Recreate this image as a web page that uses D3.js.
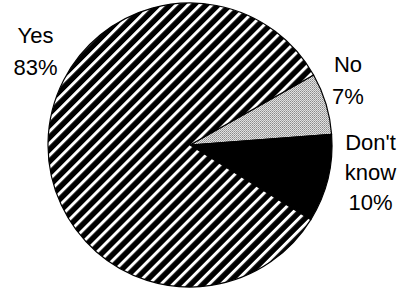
<!DOCTYPE html>
<html>
  <head>
    <meta charset="utf-8" />
    <title>Pie</title>
    <script src="https://d3js.org/d3.v7.min.js"></script>
    <style>
      body { margin: 0; background: #fff; }
      text { font-family: 'Liberation Sans', Arial, sans-serif; font-size: 22px; fill: #000; }
    </style>
  </head>
  <body>
    <script>
      // slices, in drawing order (clockwise from the "No" edge)
      const answers = ['No', "Don't know", 'Yes'];
      const shares = [7, 10, 83];
      const labelLines = [['No', '7%'], ['Don\'t', 'know', '10%'], ['Yes', '83%']];

      const w = 404;
      const h = 294;
      const cx = 190;
      const cy = 145;
      const r = 142;

      // where each label block sits (middle x, first baseline, line step)
      const labelPos = [
        { x: 348, y: 71.5, step: 32 },
        { x: 370.5, y: 150, step: 30 },
        { x: 35.5, y: 42.5, step: 32 },
      ];

      const svg = d3.select('body').append('svg').attr('width', w).attr('height', h);

      const defs = svg.append('defs');
      const hatch = defs
        .append('pattern')
        .attr('id', 'hatch')
        .attr('patternUnits', 'userSpaceOnUse')
        .attr('width', 8.5)
        .attr('height', 8.5)
        .attr('patternTransform', 'rotate(45)');
      hatch.append('rect').attr('width', 8.5).attr('height', 8.5).attr('fill', '#000');
      hatch.append('rect').attr('x', 0).attr('width', 3).attr('height', 8.5).attr('fill', '#fff');

      const dots = defs
        .append('pattern')
        .attr('id', 'dots')
        .attr('patternUnits', 'userSpaceOnUse')
        .attr('width', 2)
        .attr('height', 2);
      dots.append('rect').attr('width', 2).attr('height', 2).attr('fill', '#e2e2e2');
      dots.append('rect').attr('width', 1).attr('height', 1).attr('fill', '#8a8a8a');
      dots.append('rect').attr('x', 1).attr('y', 1).attr('width', 1).attr('height', 1).attr('fill', '#a8a8a8');

      const fills = d3.scaleOrdinal().domain(answers).range(['url(#dots)', '#000', 'url(#hatch)']);

      const start = (60.5 * Math.PI) / 180;
      const pie = d3
        .pie()
        .sort(null)
        .value((d, i) => shares[i])
        .startAngle(start)
        .endAngle(start + 2 * Math.PI);

      const arc = d3.arc().innerRadius(0).outerRadius(r);

      const g = svg.append('g').attr('transform', 'translate(' + cx + ',' + cy + ')');
      g.selectAll('path')
        .data(pie(answers))
        .enter()
        .append('path')
        .attr('d', arc)
        .attr('fill', (d) => fills(d.data))
        .attr('stroke', '#000')
        .attr('stroke-width', 1.2)
        .attr('stroke-linejoin', 'round');

      answers.forEach((a, i) => {
        const p = labelPos[i];
        const t = svg.append('text').attr('text-anchor', 'middle');
        labelLines[i].forEach((line, j) => {
          t.append('tspan').attr('x', p.x).attr('y', p.y + j * p.step).text(line);
        });
      });
    </script>
  </body>
</html>
